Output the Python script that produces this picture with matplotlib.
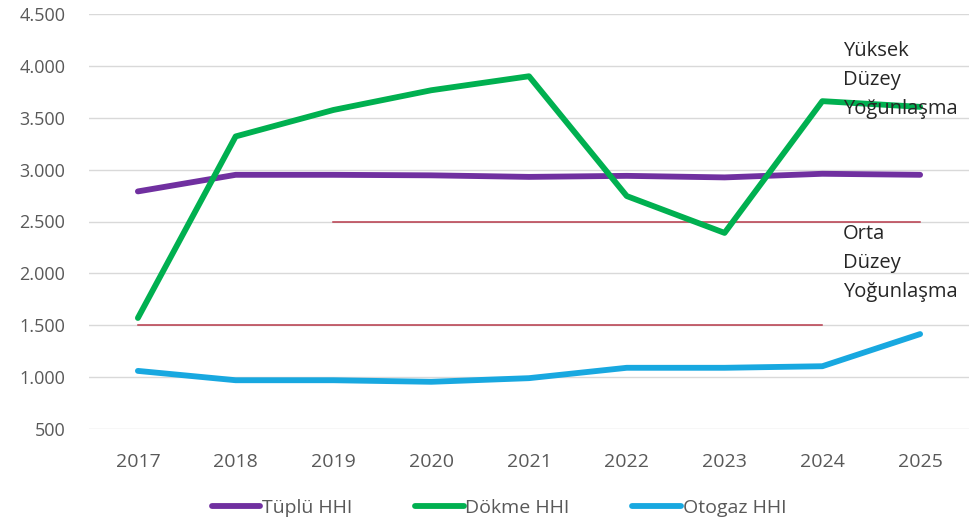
import numpy as np
import matplotlib.pyplot as plt

plt.rcParams['font.family'] = ['Open Sans', 'DejaVu Sans']

# =========================
# Data
# =========================
YEARS = ["2017", "2018", "2019", "2020", "2021", "2022", "2023", "2024", "2025"]

TUPLU_HHI = [2790, 2950, 2950, 2945, 2930, 2940, 2925, 2960, 2950]
DOKME_HHI = [1570, 3320, 3575, 3765, 3900, 2745, 2390, 3660, 3605]
OTOGAZ_HHI = [1060, 970, 970, 955, 990, 1090, 1090, 1105, 1415]

# threshold lines (category ranges)
HIGH_LEVEL = 2500
HIGH_RANGE = ("2019", "2025")
MID_LEVEL = 1500
MID_RANGE = ("2017", "2024")

Y_TICKS = [500, 1000, 1500, 2000, 2500, 3000, 3500, 4000, 4500]
SERIES = [
    ("Tüplü HHI", TUPLU_HHI, "#7030A0"),
    ("Dökme HHI", DOKME_HHI, "#00B050"),
    ("Otogaz HHI", OTOGAZ_HHI, "#18A8E0"),
]


def fmt_tr(v):
    return f"{v:,.0f}".replace(",", ".")


def main():
    fig = plt.figure(figsize=(9.73, 5.28), dpi=100)
    ax = fig.add_axes([89 / 973, 1 - 429 / 528, (969 - 89) / 973, (429 - 14) / 528])

    x = np.arange(len(YEARS))

    # threshold lines
    i0, i1 = YEARS.index(HIGH_RANGE[0]), YEARS.index(HIGH_RANGE[1])
    ax.plot(x[i0:i1 + 1], [HIGH_LEVEL] * (i1 - i0 + 1), color="#B83A4B", lw=1.1, zorder=2)
    i0, i1 = YEARS.index(MID_RANGE[0]), YEARS.index(MID_RANGE[1])
    ax.plot(x[i0:i1 + 1], [MID_LEVEL] * (i1 - i0 + 1), color="#B83A4B", lw=1.1, zorder=2)

    for name, vals, col in SERIES:
        ax.plot(x, vals, color=col, lw=4.2, label=name, solid_capstyle="round",
                solid_joinstyle="round", zorder=3)

    ax.set_xlim(-0.5, len(YEARS) - 0.5)
    ax.set_ylim(500, 4500)
    ax.set_yticks(Y_TICKS)
    ax.set_yticklabels([fmt_tr(v) for v in Y_TICKS])
    ax.set_xticks(x)
    ax.set_xticklabels(YEARS)
    ax.tick_params(axis="both", length=0, labelsize=14, colors="#595959")
    ax.tick_params(axis="x", pad=17)
    ax.tick_params(axis="y", pad=17, labelsize=13)

    ax.grid(axis="y", color="#D9D9D9", lw=1)
    ax.set_axisbelow(True)
    for s in ax.spines.values():
        s.set_visible(False)

    # annotations
    for i, t in enumerate(["Yüksek", "Düzey", "Yoğunlaşma"]):
        fig.text(843 / 973, 1 - (51 + i * 29) / 528, t, fontsize=14.5, color="#262626",
                 va="center", ha="left")
    for i, t in enumerate(["Orta", "Düzey", "Yoğunlaşma"]):
        fig.text(843 / 973, 1 - (234 + i * 29) / 528, t, fontsize=14.5, color="#262626",
                 va="center", ha="left")

    leg = fig.legend(loc="center", bbox_to_anchor=(499 / 973, 1 - 508 / 528), ncol=3,
                     frameon=False, fontsize=14, handlelength=2.5, handletextpad=0.1,
                     columnspacing=3.2)
    for t in leg.get_texts():
        t.set_color("#595959")

    fig.savefig("out.png", dpi=100)


if __name__ == "__main__":
    main()
